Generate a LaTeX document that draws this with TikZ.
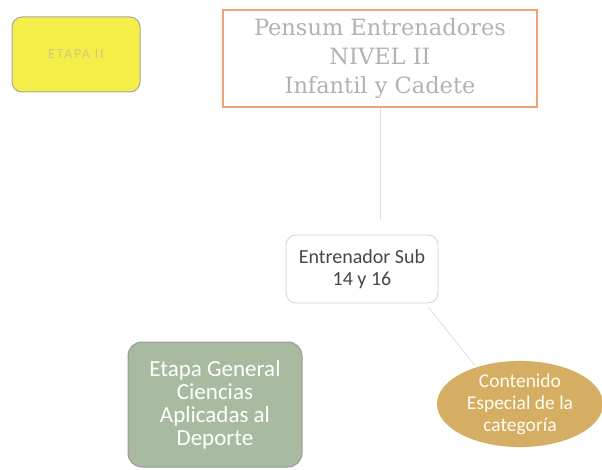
\documentclass[tikz,border=0pt]{standalone}
\usepackage{fontspec}
\setmainfont{Carlito}
\newfontfamily\titlefont{DejaVu Serif}
\usetikzlibrary{shapes.geometric}
\definecolor{etapaYellow}{HTML}{F6EE48}
\definecolor{etapaText}{HTML}{CFCB7E}
\definecolor{generalGreen}{HTML}{A8BA9F}
\definecolor{contenidoGold}{HTML}{D5AD63}
\definecolor{pensumOrange}{HTML}{F0A272}
\tikzset{%
  % Specifications for style of nodes:
        box/.style = {rectangle, rounded corners=10pt, align=center},
  etapaBox/.style = {box, fill=etapaYellow, draw=gray!70, line width=1pt,
                     minimum width=128pt, minimum height=75pt,
                     font=\fontsize{14}{16}\selectfont\addfontfeatures{LetterSpace=12},
                     text=etapaText},
 pensumBox/.style = {rectangle, draw=pensumOrange, line width=1.2pt,
                     minimum width=314pt, minimum height=97pt, align=center,
                     font=\titlefont\fontsize{22.5}{29}\selectfont, text=gray!60},
 subBox/.style    = {box, draw=gray!35, line width=0.8pt,
                     minimum width=152pt, minimum height=68pt,
                     font=\fontsize{20}{22}\selectfont, text=black!72},
 generalBox/.style= {box, rounded corners=14pt, fill=generalGreen,
                     draw=gray!80, line width=1pt,
                     minimum width=174pt, minimum height=125pt,
                     font=\fontsize{23}{23}\selectfont, text=white},
 specialBox/.style= {ellipse, fill=contenidoGold, inner sep=0pt,
                     minimum width=166pt, minimum height=82pt, align=center,
                     font=\fontsize{19.5}{22}\selectfont, text=white!95!yellow},
 link/.style      = {draw=gray!25, line width=0.8pt},
}
\begin{document}
\begin{tikzpicture}[x=1pt, y=-1pt]
  \useasboundingbox (0,0) rectangle (602,470);
  % Specification of nodes (position, etc.)
  \node (etapa)      [etapaBox]   at (76,54.5) {ETAPA II};
  \node (pensum)     [pensumBox]  at (380,58.5)
       {Pensum Entrenadores\\NIVEL II\\Infantil y Cadete};
  \node (entrenador) [subBox]     at (362,269) {Entrenador Sub\\14 y 16};
  \node (general)    [generalBox] at (215,404.5)
       {Etapa General\\Ciencias\\Aplicadas al\\Deporte};
  \node (contenido)  [specialBox] at (520,404)
       {Contenido\\Especial de la\\categoría};
  \draw[link, shorten >=15pt] (pensum.south) -- (entrenador.north -| pensum.south);
  \draw[link, shorten <=5pt, shorten >=2pt]
     ([xshift=-13pt]entrenador.south east) -- (contenido.140);
\end{tikzpicture}
\end{document}
